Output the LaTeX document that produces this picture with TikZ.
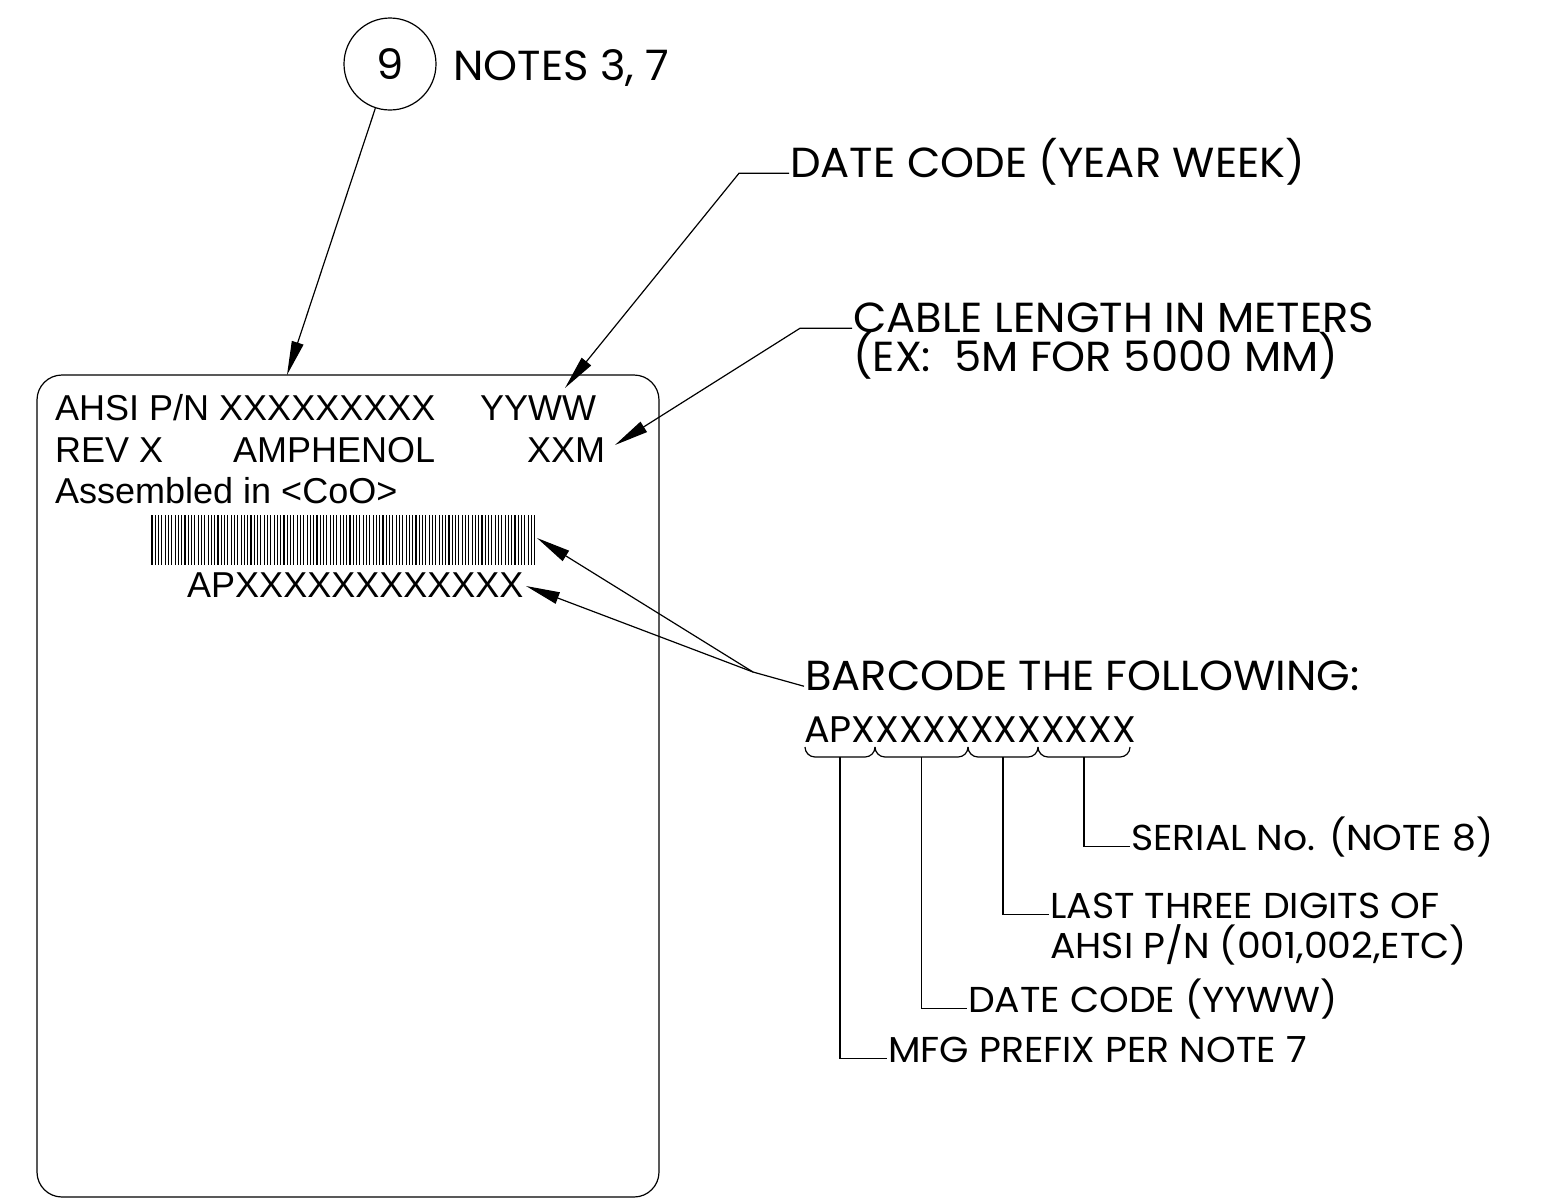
\documentclass[tikz,border=0pt]{standalone}
\usepackage{fontspec}
\setmainfont{Liberation Sans}
\newfontfamily\gothic[FakeStretch=1.03]{Poppins}
\newfontfamily\gothicwide[FakeStretch=1.05]{Poppins}
\usetikzlibrary{arrows.meta}

\begin{document}
\begin{tikzpicture}[x=1pt,y=-1pt,
    lbl/.style={font=\fontsize{36}{36}\selectfont, anchor=base west, inner sep=0pt},
    call/.style={font=\gothic\fontsize{42}{42}\selectfont, anchor=base west, inner sep=1pt, text height=0.8em, text depth=0.05em},
    subcall/.style={font=\gothicwide\fontsize{36}{36}\selectfont, anchor=base west, inner sep=1pt, text height=0.8em, text depth=0.05em},
    lead/.style={line width=1.2pt},
    pointer/.style={line width=1.2pt, -{Triangle[length=34pt,width=12pt]}}]
	\useasboundingbox (0,0) rectangle (1568,1203);
	
	% Label outline
	\draw[line width=1.2pt, rounded corners=25pt] (37,375) rectangle (659,1197);
	
	% Label text
	\node[lbl] (pn) at (55,420) {AHSI P/N XXXXXXXXX};
	\node[lbl] (yyww) at (480,420) {YYWW};
	\node[lbl] (rev) at (55,462) {REV X};
	\node[lbl] (amph) at (233,462) {AMPHENOL};
	\node[lbl] (xxm) at (527,462) {XXM};
	\node[lbl] (coo) at (55,503) {Assembled in <CoO>};
	
	% Barcode
	\foreach \i in {0,...,116}
		\draw[line width=1.1pt] ({152+3.3*\i},515) -- ++(0,50);
	\node[lbl] (serial) at (187,597) {APXXXXXXXXXXXX};
	
	% Item balloon
	\node[draw, circle, line width=1.2pt, minimum size=92pt, inner sep=0pt, font=\gothic\fontsize{42}{42}\selectfont] (c9) at (390,64) {9};
	\node[call] (notes) at (452,80) {NOTES 3, 7};
	\coordinate (tagtip) at (287,375);
	\draw[pointer] (c9) -- (tagtip);
	
	% Date code callout
	\node[call] (datecode) at (789,177) {DATE CODE (YEAR WEEK)};
	\coordinate (datetip) at (565,388);
	\draw[pointer] (datecode.west) -- ++(-50,0) -- (datetip);
	
	% Cable length callout
	\node[call] (cable) at (852,332) {CABLE LENGTH IN METERS};
	\node[call] (cableex) at (852,371) {(EX:\ \ 5M FOR 5000 MM)};
	\coordinate (cabletip) at (615,445);
	\draw[pointer] (cable.west) -- ++(-52,0) -- (cabletip);
	
	% Barcode callout
	\node[call] (barcode) at (804,690) {BARCODE THE FOLLOWING:};
	\coordinate (knee) at (753,672);
	\coordinate (bartip) at (537,538);
	\coordinate (numtip) at (526,586);
	\draw[lead] (barcode.west) -- (knee);
	\draw[pointer] (knee) -- (bartip);
	\draw[pointer] (knee) -- (numtip);
	
	% Barcode breakdown
	\node[subcall, font=\gothic\fontsize{37}{37}\selectfont] (code) at (803,742) {APXXXXXXXXXXXX};
	\foreach \a/\b/\n in {805/875/1, 875/968/2, 968/1038/3, 1038/1130/4} {
		\draw[lead] (\a,747) arc[start angle=180, end angle=270, radius=10pt]
			-- ({\b-10},757) arc[start angle=270, end angle=360, radius=10pt];
		\coordinate (b\n) at ({(\a+\b)/2},757);
	}
	
	% Breakdown labels
	\node[subcall] (sn) at (1130,850) {SERIAL No. (NOTE 8)};
	\node[subcall] (last) at (1049,918) {LAST THREE DIGITS OF};
	\node[subcall] (lastpn) at (1049,958) {AHSI P/N (001,002,ETC)};
	\node[subcall] (yw) at (967,1012) {DATE CODE (YYWW)};
	\node[subcall] (mfg) at (887,1062) {MFG PREFIX PER NOTE 7};
	\draw[lead] (b4) |- (sn.west);
	\draw[lead] (b3) |- (last.west);
	\draw[lead] (b2) |- (yw.west);
	\draw[lead] (b1) |- (mfg.west);
	
\end{tikzpicture}
\end{document}
